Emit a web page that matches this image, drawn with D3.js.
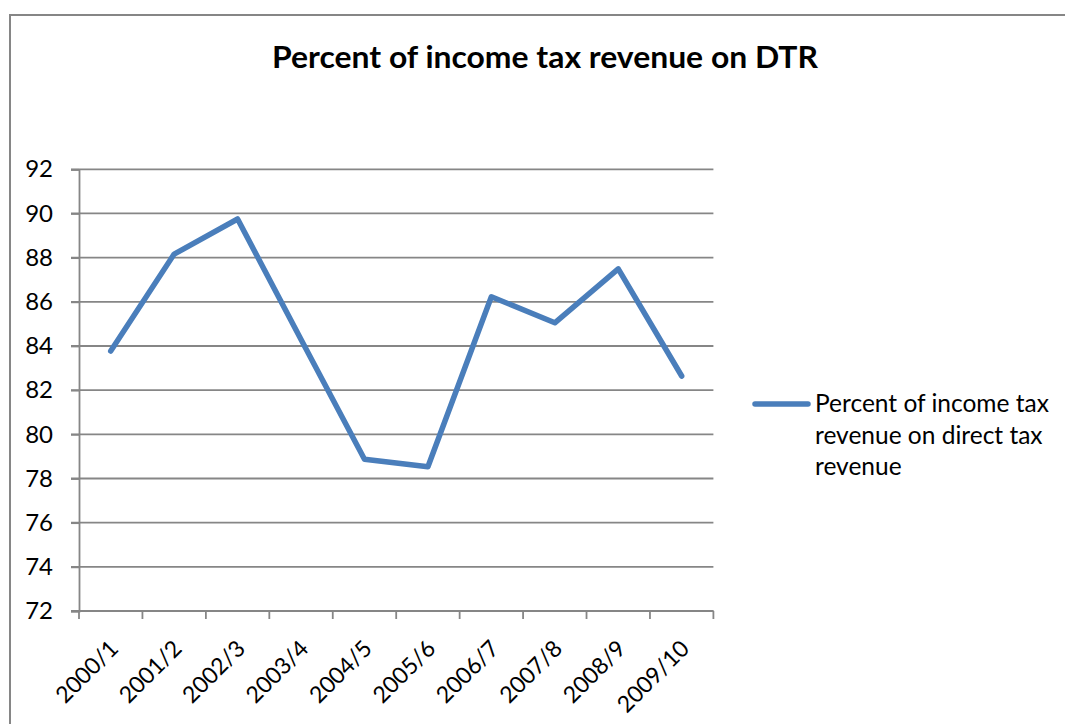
<!DOCTYPE html>
<html>
<head>
<meta charset="utf-8">
<script src="https://cdn.jsdelivr.net/npm/d3@7"></script>
<style>
  html, body { margin: 0; padding: 0; background: #fff; }
  svg { display: block; }
  text { font-family: Lato, "Open Sans", sans-serif; fill: #000; }
</style>
</head>
<body>
<svg id="chart" width="1065" height="724"></svg>
<script>
// Fiscal years and the share of income tax in direct tax revenue (%)
const years = ["2000/1", "2001/2", "2002/3", "2003/4", "2004/5",
               "2005/6", "2006/7", "2007/8", "2008/9", "2009/10"];
const incomeTaxShare = [83.77, 88.16, 89.75, 84.29, 78.87,
                        78.53, 86.23, 85.05, 87.49, 82.64];
const yTicks = [72, 74, 76, 78, 80, 82, 84, 86, 88, 90, 92];
const titleText = "Percent of income tax revenue on DTR";
const seriesName = ["Percent of income tax", "revenue on direct tax", "revenue"];

const svg = d3.select("#chart");
const plot = { left: 79, right: 713.4, top: 169.3, bottom: 611 };
const gridColor = "#868686";
const lineColor = "#4a7ebb";

// outer chart frame
svg.append("rect")
  .attr("x", 10).attr("y", 15)
  .attr("width", 1100).attr("height", 800)
  .attr("fill", "none").attr("stroke", gridColor).attr("stroke-width", 2);

const x = d3.scaleBand().domain(years).range([plot.left, plot.right]).padding(0);
const y = d3.scaleLinear().domain([72, 92]).range([plot.bottom, plot.top]);

// title
svg.append("text")
  .attr("x", 545).attr("y", 68)
  .attr("text-anchor", "middle")
  .style("font-size", "30px").style("font-weight", "bold")
  .attr("textLength", 546).attr("lengthAdjust", "spacingAndGlyphs")
  .text(titleText);

// horizontal gridlines with their left tick marks
svg.append("g").selectAll("line").data(yTicks).join("line")
  .attr("x1", plot.left - 8).attr("x2", plot.right)
  .attr("y1", d => y(d)).attr("y2", d => y(d))
  .attr("stroke", gridColor).attr("stroke-width", 1.8);

// y axis
const yAxis = svg.append("g")
  .attr("transform", `translate(${plot.left},0)`)
  .call(d3.axisLeft(y).tickValues(yTicks).tickSize(8).tickPadding(18).tickFormat(d3.format("d")));
yAxis.select(".domain").attr("stroke", gridColor).attr("stroke-width", 1.8);
yAxis.selectAll(".tick line").attr("stroke", gridColor).attr("stroke-width", 1.8);
yAxis.selectAll(".tick text").style("font-size", "24px").style("fill", "#000");

// x axis: ticks sit on category boundaries
const xAxisG = svg.append("g").attr("transform", `translate(0,${plot.bottom})`);
xAxisG.append("line")
  .attr("x1", plot.left).attr("x2", plot.right)
  .attr("stroke", gridColor).attr("stroke-width", 1.8);
const boundaries = years.map(d => x(d)).concat([plot.right]);
xAxisG.selectAll("line.tk").data(boundaries).join("line").attr("class", "tk")
  .attr("x1", d => d).attr("x2", d => d).attr("y1", 0).attr("y2", 8)
  .attr("stroke", gridColor).attr("stroke-width", 1.8);
xAxisG.selectAll("text").data(years).join("text")
  .attr("transform", d => `translate(${x(d) + x.bandwidth() / 2 + 9},${39}) rotate(-45)`)
  .attr("text-anchor", "end")
  .style("font-size", "23px")
  .text(d => d);

// data line
const line = d3.line()
  .x((d, i) => x(years[i]) + x.bandwidth() / 2)
  .y(d => y(d));
svg.append("path")
  .datum(incomeTaxShare)
  .attr("d", line)
  .attr("fill", "none")
  .attr("stroke", lineColor)
  .attr("stroke-width", 5.5)
  .attr("stroke-linejoin", "round")
  .attr("stroke-linecap", "round");

// legend
const legend = svg.append("g");
legend.append("line")
  .attr("x1", 755).attr("x2", 808).attr("y1", 404).attr("y2", 404)
  .attr("stroke", lineColor).attr("stroke-width", 5.5).attr("stroke-linecap", "round");
legend.selectAll("text").data(seriesName).join("text")
  .attr("x", 815)
  .attr("y", (d, i) => 412 + i * 31.5)
  .style("font-size", "24.5px")
  .text(d => d);
</script>
</body>
</html>
